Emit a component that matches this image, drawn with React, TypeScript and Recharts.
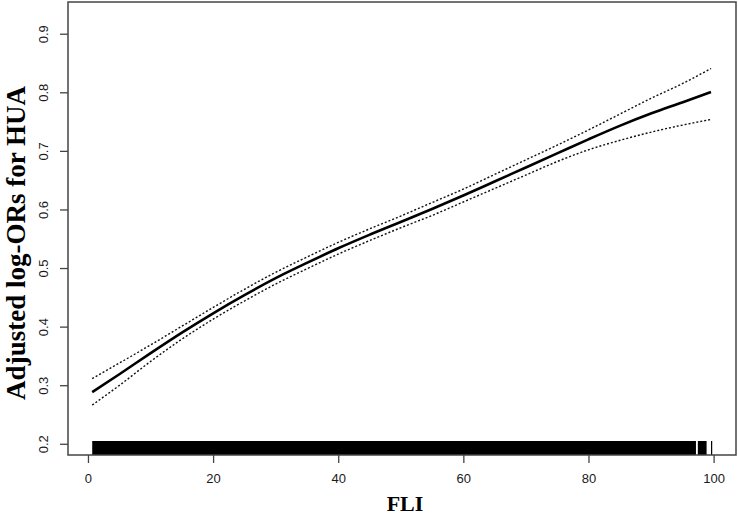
import React from "react";
import { LineChart, Line, XAxis, YAxis, ReferenceArea, Label } from "recharts";

// FLI values (x) and fitted adjusted log-ORs with 95% CI
const fli = [0.6, 5, 10, 15, 20, 25, 30, 35, 40, 45, 50, 55, 60, 65, 70, 75, 80, 85, 90, 95, 99.5];
const fit = [0.289, 0.32, 0.356, 0.391, 0.424, 0.455, 0.484, 0.51, 0.535, 0.558, 0.58, 0.602, 0.625, 0.649, 0.673, 0.697, 0.721, 0.744, 0.765, 0.784, 0.8015];
const upper = [0.312, 0.339, 0.37, 0.402, 0.434, 0.465, 0.494, 0.52, 0.545, 0.568, 0.59, 0.613, 0.636, 0.661, 0.686, 0.711, 0.737, 0.764, 0.791, 0.816, 0.8415];
const lower = [0.267, 0.301, 0.342, 0.38, 0.414, 0.445, 0.474, 0.5, 0.525, 0.548, 0.57, 0.591, 0.614, 0.637, 0.66, 0.683, 0.703, 0.719, 0.733, 0.745, 0.7544];

// rug of observed FLI values (dense; drawn as filled segments)
const rugSegments: [number, number][] = [[0.6, 97.1], [97.4, 98.8], [99.5, 99.7]];

const xTicks = [0, 20, 40, 60, 80, 100];
const yTicks = [0.2, 0.3, 0.4, 0.5, 0.6, 0.7, 0.8, 0.9];

const xDomain: [number, number] = [-3.27, 103.5];
const yDomain: [number, number] = [0.1817, 0.955];
const rugTop = 0.2056;

const data = fli.map((x, i) => ({ x, fit: fit[i], upper: upper[i], lower: lower[i] }));

const tickFont = { fontFamily: "'Liberation Sans', Arial, sans-serif", fontSize: 13, fill: "#1a1a1a" };

const XTick = (p: any) => (
  <text x={p.x} y={p.y + 20} textAnchor="middle" {...tickFont}>
    {p.payload.value}
  </text>
);

const YTick = (p: any) => {
  const x = p.x - 12;
  return (
    <text x={x} y={p.y} textAnchor="middle" transform={`rotate(-90, ${x}, ${p.y})`} {...tickFont}>
      {p.payload.value.toFixed(1)}
    </text>
  );
};

export default function App() {
  return (
    <div style={{ position: "absolute", left: 0, top: 0, width: 738, height: 516, background: "#fff" }}>
      <LineChart width={738} height={516} data={data} margin={{ top: 2, right: 2, bottom: 0, left: 0 }}>
        <XAxis
          dataKey="x"
          type="number"
          domain={xDomain}
          ticks={xTicks}
          allowDataOverflow
          height={61}
          axisLine={false}
          tickLine={{ stroke: "#444", strokeWidth: 1.3 }}
          tickSize={8}
          tickMargin={0}
          tick={<XTick />}
        >
          <Label
            content={() => (
              <text x={405} y={511} textAnchor="middle" fontFamily="'Liberation Serif', 'Times New Roman', serif" fontWeight="bold" fontSize={22} fill="#000">
                FLI
              </text>
            )}
          />
        </XAxis>
        <YAxis
          type="number"
          domain={yDomain}
          ticks={yTicks}
          allowDataOverflow
          width={68}
          axisLine={false}
          tickLine={{ stroke: "#444", strokeWidth: 1.3 }}
          tickSize={8}
          tickMargin={0}
          tick={<YTick />}
        >
          <Label
            content={() => (
              <text x={25} y={243} transform="rotate(-90, 25, 243)" textAnchor="middle" fontFamily="'Liberation Serif', 'Times New Roman', serif" fontWeight="bold" fontSize={27} fill="#000">
                Adjusted log-ORs for HUA
              </text>
            )}
          />
        </YAxis>
        {rugSegments.map(([a, b], i) => (
          <ReferenceArea key={i} x1={a} x2={b} y1={yDomain[0]} y2={rugTop} fill="#000" fillOpacity={1} stroke="none" ifOverflow="visible" />
        ))}
        <ReferenceArea x1={xDomain[0]} x2={xDomain[1]} y1={yDomain[0]} y2={yDomain[1]} fill="none" stroke="#444" strokeWidth={1.5} ifOverflow="visible" />
        <Line type="monotone" dataKey="upper" stroke="#111" strokeWidth={1.4} strokeDasharray="2 2" dot={false} isAnimationActive={false} />
        <Line type="monotone" dataKey="lower" stroke="#111" strokeWidth={1.4} strokeDasharray="2 2" dot={false} isAnimationActive={false} />
        <Line type="monotone" dataKey="fit" stroke="#000" strokeWidth={2.6} dot={false} isAnimationActive={false} />
      </LineChart>
    </div>
  );
}
